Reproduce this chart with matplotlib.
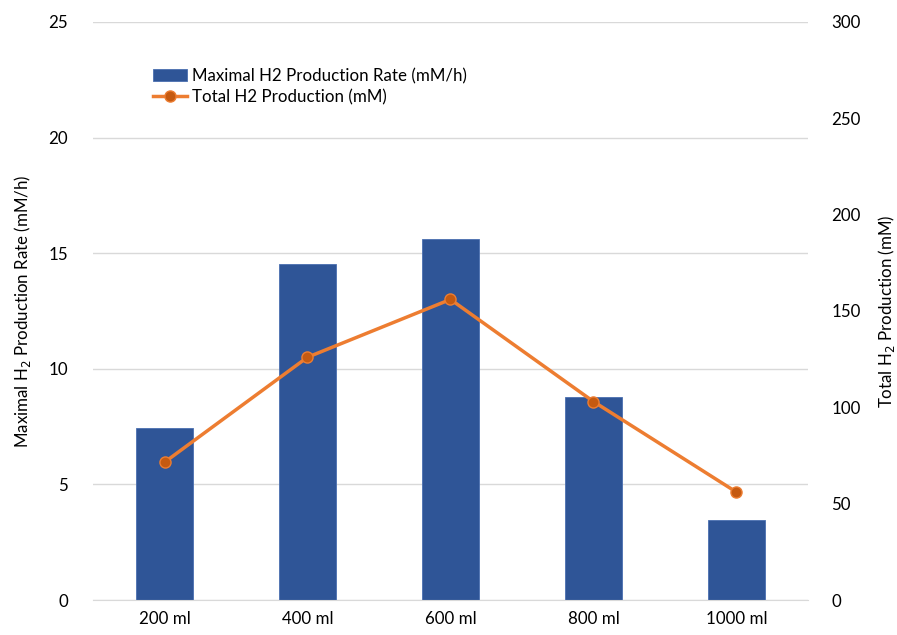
import matplotlib
matplotlib.use("Agg")
import matplotlib.pyplot as plt
import numpy as np

categories = ["200 ml", "400 ml", "600 ml", "800 ml", "1000 ml"]
max_rate = [7.45, 14.55, 15.6, 8.8, 3.45]
total_prod = [71.5, 126, 156, 103, 56]

plt.rcParams['font.family'] = ['Lato', 'DejaVu Sans']
FS = 12.2

fig = plt.figure(figsize=(8.97, 6.35), dpi=100)
ax = fig.add_axes([0.1037, 0.0551, 0.797, 0.9103])
ax2 = ax.twinx()

x = np.arange(len(categories))
bars = ax.bar(x, max_rate, width=0.4, color="#2F5597", edgecolor="#4A6FB0", linewidth=0.6,
              label="Maximal H2 Production Rate (mM/h)", zorder=2)
line, = ax2.plot(x, total_prod, color="#ED7D31", linewidth=2.5, marker="o", markersize=8,
                 markerfacecolor="#C55A11", markeredgecolor="#ED7D31", markeredgewidth=1,
                 label="Total H2 Production (mM)", zorder=3)

ax.set_xlim(-0.5, len(categories) - 0.5)
ax.set_ylim(0, 25)
ax.set_yticks([0, 5, 10, 15, 20, 25])
ax2.set_ylim(0, 300)
ax2.set_yticks([0, 50, 100, 150, 200, 250, 300])
ax.set_xticks(x)
ax.set_xticklabels(categories)

ax.grid(axis="y", color="#D9D9D9", linewidth=1, zorder=0)
ax.set_axisbelow(True)
for a in (ax, ax2):
    for s in ("top", "left", "right", "bottom"):
        a.spines[s].set_visible(False)
ax.spines["bottom"].set_visible(True)
ax.spines["bottom"].set_color("#D9D9D9")

ax.tick_params(axis="x", length=0, labelsize=FS, colors="#000000", pad=8)
ax.tick_params(axis="y", length=0, labelsize=FS, colors="#000000", pad=18)
ax2.tick_params(axis="y", length=0, labelsize=FS, colors="#000000", pad=17)

ax.set_ylabel("Maximal H$_2$ Production Rate (mM/h)", fontsize=FS, labelpad=11)
ax2.set_ylabel("Total H$_2$ Production (mM)", fontsize=FS, labelpad=11)

ax2.set_zorder(ax.get_zorder() + 1)
ax2.patch.set_visible(False)

leg = ax.legend([bars, line], ["Maximal H2 Production Rate (mM/h)", "Total H2 Production (mM)"],
                loc="upper left", bbox_to_anchor=(0.075, 0.932), frameon=False, fontsize=FS,
                handlelength=2.0, handletextpad=0.3, labelspacing=0.3, borderaxespad=0)

fig.savefig("out.png", dpi=100)
